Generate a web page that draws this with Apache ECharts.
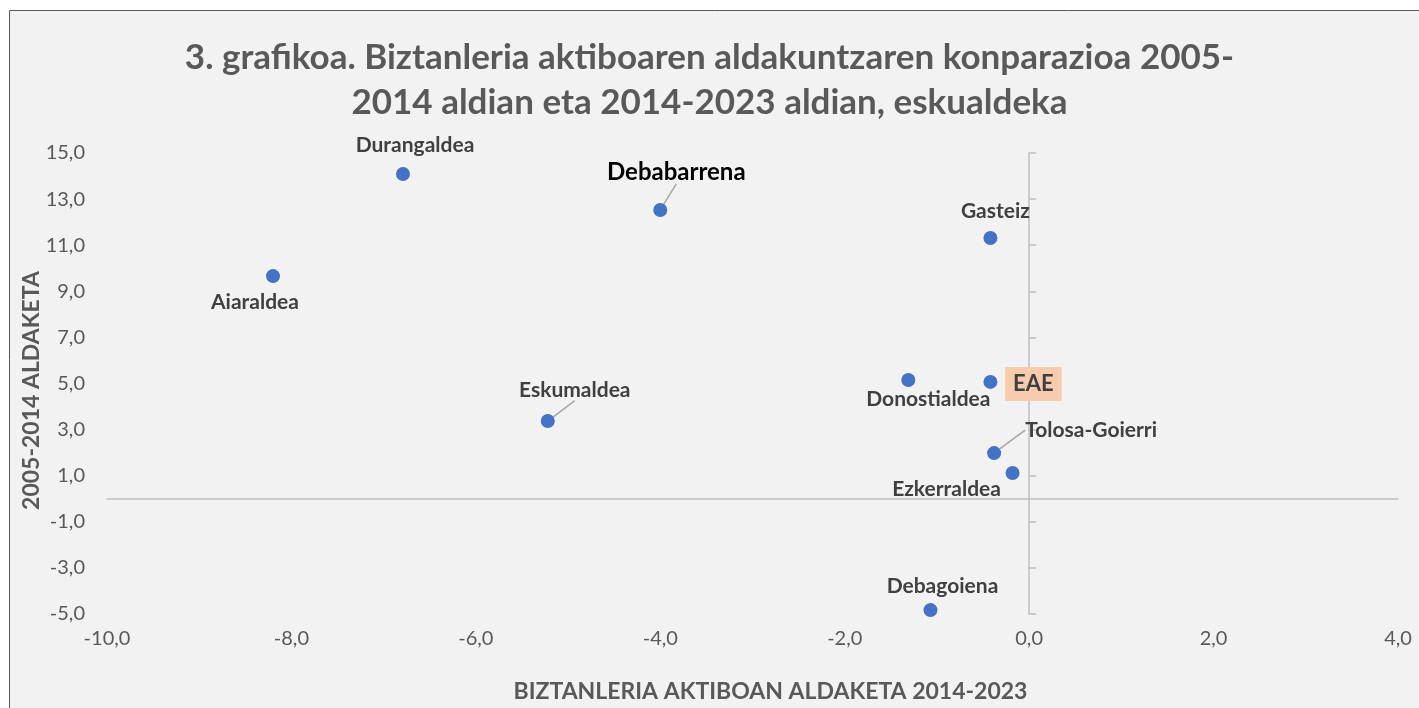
<!DOCTYPE html>
<html>
<head>
<meta charset="utf-8">
<title>3. grafikoa</title>
<script src="https://cdn.jsdelivr.net/npm/echarts@6/dist/echarts.min.js"></script>
<style>
  html, body { margin: 0; padding: 0; background: #fff; }
  #chart { width: 1419px; height: 708px; }
</style>
</head>
<body>
<div id="chart"></div>
<script>
// Eskualdeak eta bi aldiko aldaketak
const regions = ['Durangaldea', 'Debabarrena', 'Gasteiz', 'Aiaraldea', 'Eskumaldea',
  'Donostialdea', 'EAE', 'Tolosa-Goierri', 'Ezkerraldea', 'Debagoiena']
const change2014_2023 = [-6.79, -4.0, -0.42, -8.2, -5.22, -1.31, -0.42, -0.38, -0.18, -1.07]
const change2005_2014 = [14.09, 12.53, 11.31, 9.66, 3.37, 5.15, 5.07, 1.98, 1.12, -4.83]

const xTicks = { min: -10, max: 4, interval: 2 }
const yTicks = { min: -5, max: 15, interval: 2 }

const titleText = '3. grafikoa. Biztanleria aktiboaren aldakuntzaren konparazioa 2005-\n2014 aldian eta 2014-2023 aldian, eskualdeka'
const xName = 'BIZTANLERIA AKTIBOAN ALDAKETA 2014-2023'
const yName = '2005-2014 ALDAKETA'

// label placement (pixel shift from the point), leader lines
const labelShift = {
  'Durangaldea': [12, -29],
  'Debabarrena': [16, -38],
  'Gasteiz': [5, -27],
  'Aiaraldea': [-18, 26],
  'Eskumaldea': [27, -31],
  'Donostialdea': [20, 19],
  'EAE': [43, 2],
  'Tolosa-Goierri': [97, -23],
  'Ezkerraldea': [-66, 16],
  'Debagoiena': [12, -24]
}
const withLeader = ['Debabarrena', 'Eskumaldea', 'Tolosa-Goierri']

const FONT = 'Lato, "Open Sans", sans-serif'
const fmt = v => v.toFixed(1).replace('.', ',')

const chart = echarts.init(document.getElementById('chart'))

const points = regions.map((name, i) => {
  const item = {
    name: name,
    value: [change2014_2023[i], change2005_2014[i]]
  }
  if (name === 'Debabarrena') {
    item.label = { color: '#000', fontSize: 24 }
  }
  if (name === 'EAE') {
    item.label = { backgroundColor: '#f8cbad', padding: [7, 8, 5, 8], fontSize: 22 }
  }
  if (withLeader.includes(name)) {
    item.labelLine = { show: true }
  }
  return item
})

const option = {
  backgroundColor: '#fff',
  animation: false,
  graphic: [
    {
      type: 'rect',
      z: -10,
      shape: { x: 9.5, y: 10.5, width: 1430, height: 720 },
      style: { fill: '#f2f2f2', stroke: '#595959', lineWidth: 1 }
    }
  ],
  title: {
    text: titleText,
    left: 'center',
    top: 30,
    padding: [5, 22, 5, 0],
    textStyle: {
      fontFamily: FONT,
      fontSize: 35,
      fontWeight: 'bold',
      color: '#595959',
      lineHeight: 45
    }
  },
  grid: {
    left: 107,
    right: 21,
    top: 153,
    bottom: 94
  },
  xAxis: [
    {
      type: 'value',
      min: xTicks.min,
      max: xTicks.max,
      interval: xTicks.interval,
      name: xName,
      nameLocation: 'middle',
      nameGap: 66,
      nameTextStyle: { fontFamily: FONT, fontSize: 23, fontWeight: 'bold', color: '#595959', padding: [0, 0, 0, 36] },
      axisLine: { show: false, onZero: false },
      axisTick: { show: false },
      splitLine: { show: false },
      axisLabel: { fontFamily: FONT, fontSize: 20, color: '#595959', margin: 15, formatter: fmt }
    },
    {
      type: 'value',
      min: xTicks.min,
      max: xTicks.max,
      interval: xTicks.interval,
      axisLine: { show: true, onZero: true, lineStyle: { color: '#bfbfbf', width: 1.5 } },
      axisTick: { show: false },
      axisLabel: { show: false },
      splitLine: { show: false }
    }
  ],
  yAxis: [
    {
      type: 'value',
      min: yTicks.min,
      max: yTicks.max,
      interval: yTicks.interval,
      name: yName,
      nameLocation: 'middle',
      nameGap: 64,
      nameMoveOverlap: false,
      nameTextStyle: { fontFamily: FONT, fontSize: 23, fontWeight: 'bold', color: '#595959', padding: [0, 14, 0, 0] },
      axisLine: { show: false, onZero: false },
      axisTick: { show: false },
      splitLine: { show: false },
      axisLabel: { fontFamily: FONT, fontSize: 20, color: '#595959', margin: 22, formatter: fmt }
    },
    {
      type: 'value',
      min: yTicks.min,
      max: yTicks.max,
      interval: yTicks.interval,
      axisLine: { show: true, onZero: true, lineStyle: { color: '#bfbfbf', width: 1.5 } },
      axisTick: { show: true, length: 7, lineStyle: { color: '#bfbfbf', width: 1.5 } },
      axisLabel: { show: false },
      splitLine: { show: false }
    }
  ],
  series: [
    {
      type: 'scatter',
      xAxisIndex: 0,
      yAxisIndex: 0,
      data: points,
      symbolSize: 14,
      itemStyle: { color: '#4472c4', opacity: 1 },
      label: {
        show: true,
        position: 'inside',
        formatter: '{b}',
        fontFamily: FONT,
        fontSize: 21,
        fontWeight: 'bold',
        color: '#404040'
      },
      labelLine: {
        show: false,
        lineStyle: { color: '#a6a6a6', width: 1.5 }
      },
      labelLayout: function (params) {
        const name = regions[params.dataIndex]
        const s = labelShift[name]
        return { dx: s[0], dy: s[1] }
      }
    }
  ]
}

chart.setOption(option)
</script>
</body>
</html>
